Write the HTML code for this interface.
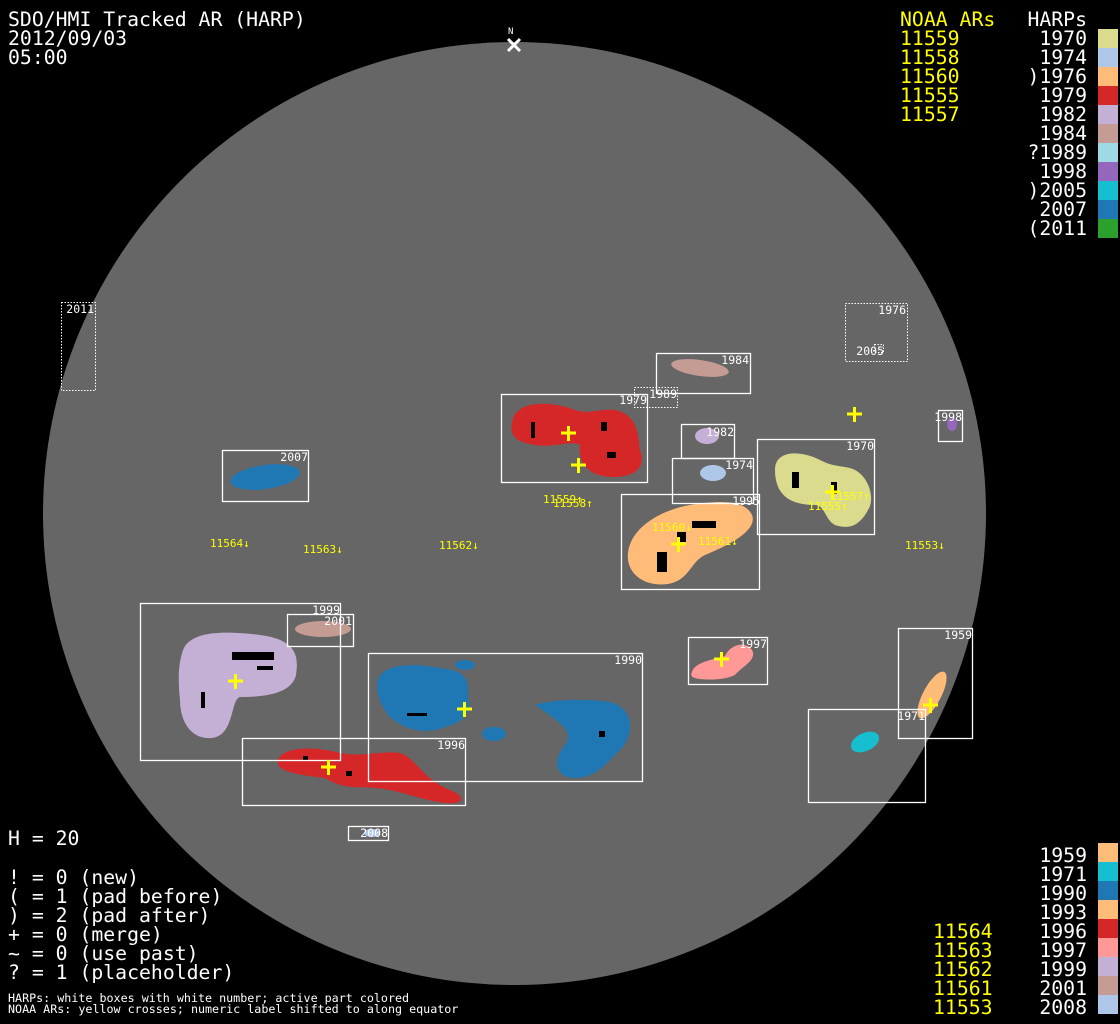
<!DOCTYPE html>
<html><head><meta charset="utf-8"><style>
html,body{margin:0;padding:0;background:#000;}
svg{display:block}
text{font-family:"DejaVu Sans Mono","Liberation Mono",monospace;}
</style></head><body>
<svg width="1120" height="1024" viewBox="0 0 1120 1024" xmlns="http://www.w3.org/2000/svg">
<rect width="1120" height="1024" fill="#000"/>
<circle cx="514.5" cy="513.5" r="471.5" fill="#666"/>
<text x="508" y="34" fill="#fff" font-size="9">N</text>
<path d="M508 39 L520 51 M520 39 L508 51" stroke="#fff" stroke-width="3"/>

<g>
<ellipse cx="700" cy="368" rx="29" ry="8" transform="rotate(8 700 368)" fill="#c49c94"/>
<path d="M512 425 C512 400 550 400 575 410 C590 415 600 408 615 410 C640 415 638 440 640 450 C648 470 630 478 610 477 C585 475 578 460 580 445 C570 440 555 448 535 445 C515 442 510 435 512 425Z" fill="#d62728"/>
<ellipse cx="707" cy="436" rx="12" ry="8" fill="#c5b0d5"/>
<ellipse cx="713" cy="473" rx="13" ry="8" fill="#aec7e8"/>
<path d="M775 470 C775 450 800 450 820 460 C835 468 845 465 855 470 C870 478 875 500 868 510 C860 525 850 530 835 525 C825 520 825 505 815 505 C790 505 775 495 775 470Z" fill="#dbdb8d"/>
<path d="M628 560 C625 530 660 510 690 505 C720 500 745 500 752 515 C758 530 730 545 705 555 C690 562 690 580 668 584 C645 587 630 575 628 560Z" fill="#ffbb78"/>
<ellipse cx="265" cy="477" rx="35" ry="12" transform="rotate(-8 265 477)" fill="#1f77b4"/>
<ellipse cx="952" cy="424" rx="5" ry="7" fill="#9467bd"/>
<path d="M183 650 C190 632 220 630 260 635 C300 640 298 660 296 675 C292 692 270 697 240 697 C230 700 235 735 212 738 C190 740 180 720 180 700 C178 680 178 665 183 650Z" fill="#c5b0d5"/>
<ellipse cx="323" cy="629" rx="28" ry="8" fill="#c49c94"/>
<path d="M378 680 C382 665 410 662 440 668 C460 670 470 675 468 695 C470 710 470 720 445 727 C425 735 405 730 390 717 C380 705 375 692 378 680Z" fill="#1f77b4"/>
<ellipse cx="465" cy="665" rx="10" ry="5" fill="#1f77b4"/>
<ellipse cx="494" cy="734" rx="12" ry="7" fill="#1f77b4"/>
<path d="M535 705 C550 700 580 698 610 702 C632 708 636 730 622 748 C605 765 595 778 575 778 C555 778 552 760 565 745 C575 732 560 722 535 705Z" fill="#1f77b4"/>
<path d="M278 760 C282 748 310 745 340 753 C365 758 390 748 405 755 C420 765 425 780 450 790 C470 798 460 805 445 803 C420 800 400 790 375 788 C355 786 345 790 325 778 C300 775 275 772 278 760Z" fill="#d62728"/>
<path d="M692 672 C695 662 712 660 725 656 C730 645 745 640 752 650 C758 660 740 668 735 675 C725 680 710 680 700 679 C692 678 690 676 692 672Z" fill="#ff9896"/>
<ellipse cx="865" cy="742" rx="15" ry="9" transform="rotate(-25 865 742)" fill="#17becf"/>
<ellipse cx="932" cy="695" rx="9" ry="26" transform="rotate(28 932 695)" fill="#ffbb78"/>
<ellipse cx="372" cy="833" rx="8" ry="4" fill="#aec7e8"/>
</g>

<g fill="#000">
<rect x="531" y="422" width="4" height="16"/><rect x="601" y="422" width="6" height="9"/><rect x="607" y="452" width="9" height="6"/>
<rect x="792" y="472" width="7" height="16"/><rect x="831" y="482" width="6" height="12"/>
<rect x="657" y="552" width="10" height="20"/><rect x="692" y="521" width="24" height="7"/><rect x="677" y="532" width="9" height="10"/>
<rect x="201" y="692" width="4" height="16"/><rect x="232" y="652" width="42" height="8"/><rect x="257" y="666" width="16" height="4"/>
<rect x="407" y="713" width="20" height="3"/><rect x="599" y="731" width="6" height="6"/>
<rect x="346" y="771" width="6" height="5"/><rect x="303" y="756" width="5" height="5"/>
</g>

<g fill="none" stroke="#fff" stroke-width="1.3">
<rect x="656.5" y="353.5" width="94" height="40"/>
<rect x="501.5" y="394.5" width="146" height="88"/>
<rect x="681.5" y="424.5" width="53" height="34"/>
<rect x="672.5" y="458.5" width="81" height="45"/>
<rect x="757.5" y="439.5" width="117" height="95"/>
<rect x="621.5" y="494.5" width="138" height="95"/>
<rect x="222.5" y="450.5" width="86" height="51"/>
<rect x="938.5" y="410.5" width="24" height="31"/>
<rect x="140.5" y="603.5" width="200" height="157"/>
<rect x="287.5" y="614.5" width="66" height="32"/>
<rect x="368.5" y="653.5" width="274" height="128"/>
<rect x="242.5" y="738.5" width="223" height="67"/>
<rect x="688.5" y="637.5" width="79" height="47"/>
<rect x="898.5" y="628.5" width="74" height="110"/>
<rect x="808.5" y="709.5" width="117" height="93"/>
<rect x="348.5" y="826.5" width="40" height="14"/>
</g>
<g fill="none" stroke="#fff" stroke-width="1" stroke-dasharray="1.5 1.5">
<rect x="61.5" y="302.5" width="34" height="88"/>
<rect x="845.5" y="303.5" width="62" height="58"/>
<rect x="634.5" y="387.5" width="43" height="20"/>
<rect x="874.5" y="344.5" width="9" height="8"/>
</g>
<g fill="#fff" font-size="11.5" text-anchor="end">
<text x="94" y="313">2011</text>
<text x="906" y="314">1976</text>
<text x="884" y="355">2005</text>
<text x="749" y="364">1984</text>
<text x="647" y="404">1979</text>
<text x="677" y="398">1989</text>
<text x="734" y="436">1982</text>
<text x="753" y="469">1974</text>
<text x="874" y="450">1970</text>
<text x="760" y="505">1995</text>
<text x="308" y="461">2007</text>
<text x="962" y="421">1998</text>
<text x="340" y="614">1999</text>
<text x="352" y="625">2001</text>
<text x="642" y="664">1990</text>
<text x="465" y="749">1996</text>
<text x="767" y="648">1997</text>
<text x="972" y="639">1959</text>
<text x="925" y="720">1971</text>
<text x="388" y="837">2008</text>
</g>
<g stroke="#ff0" stroke-width="3">
<path d="M561 433h15M568.5 426v15"/>
<path d="M571 465h15M578.5 458v15"/>
<path d="M847 414h15M854.5 407v15"/>
<path d="M825 492h15M832.5 485v15"/>
<path d="M671 544h15M678.5 537v15"/>
<path d="M228 681h15M235.5 674v15"/>
<path d="M457 709h15M464.5 702v15"/>
<path d="M321 767h15M328.5 760v15"/>
<path d="M714 659h15M721.5 652v15"/>
<path d="M923 705h15M930.5 698v15"/>
</g>
<g fill="#ff0" font-size="11">
<text x="543" y="503">11559↑</text>
<text x="553" y="507">11558↑</text>
<text x="652" y="531">11560↓</text>
<text x="698" y="545">11561↓</text>
<text x="808" y="510">11555↑</text>
<text x="830" y="500">11557↑</text>
<text x="210" y="547">11564↓</text>
<text x="303" y="553">11563↓</text>
<text x="439" y="549">11562↓</text>
<text x="905" y="549">11553↓</text>
</g>

<g fill="#fff" font-size="19.8">
<text x="8" y="26">SDO/HMI Tracked AR (HARP)</text>
<text x="8" y="45">2012/09/03</text>
<text x="8" y="64">05:00</text>
</g>
<g fill="#ff0" font-size="19.8">
<text x="900" y="26">NOAA ARs</text>
<text x="900" y="45">11559</text><text x="900" y="64">11558</text><text x="900" y="83">11560</text><text x="900" y="102">11555</text><text x="900" y="121">11557</text>
</g>
<g fill="#fff" font-size="19.8" text-anchor="end">
<text x="1087" y="26">HARPs</text>
<text x="1087" y="45">1970</text><text x="1087" y="64">1974</text><text x="1087" y="83">)1976</text><text x="1087" y="102">1979</text><text x="1087" y="121">1982</text><text x="1087" y="140">1984</text><text x="1087" y="159">?1989</text><text x="1087" y="178">1998</text><text x="1087" y="197">)2005</text><text x="1087" y="216">2007</text><text x="1087" y="235">(2011</text>
</g>
<g>
<rect x="1098" y="29" width="20" height="19" fill="#dbdb8d"/>
<rect x="1098" y="48" width="20" height="19" fill="#aec7e8"/>
<rect x="1098" y="67" width="20" height="19" fill="#ffbb78"/>
<rect x="1098" y="86" width="20" height="19" fill="#d62728"/>
<rect x="1098" y="105" width="20" height="19" fill="#c5b0d5"/>
<rect x="1098" y="124" width="20" height="19" fill="#c49c94"/>
<rect x="1098" y="143" width="20" height="19" fill="#9edae5"/>
<rect x="1098" y="162" width="20" height="19" fill="#9467bd"/>
<rect x="1098" y="181" width="20" height="19" fill="#17becf"/>
<rect x="1098" y="200" width="20" height="19" fill="#1f77b4"/>
<rect x="1098" y="219" width="20" height="19" fill="#2ca02c"/>
</g>
<g fill="#fff" font-size="19.8" text-anchor="end">
<text x="1087" y="862">1959</text><text x="1087" y="881">1971</text><text x="1087" y="900">1990</text><text x="1087" y="919">1993</text><text x="1087" y="938">1996</text><text x="1087" y="957">1997</text><text x="1087" y="976">1999</text><text x="1087" y="995">2001</text><text x="1087" y="1014">2008</text>
</g>
<g fill="#ff0" font-size="19.8">
<text x="933" y="938">11564</text><text x="933" y="957">11563</text><text x="933" y="976">11562</text><text x="933" y="995">11561</text><text x="933" y="1014">11553</text>
</g>
<g>
<rect x="1098" y="843" width="20" height="19" fill="#ffbb78"/>
<rect x="1098" y="862" width="20" height="19" fill="#17becf"/>
<rect x="1098" y="881" width="20" height="19" fill="#1f77b4"/>
<rect x="1098" y="900" width="20" height="19" fill="#ffbb78"/>
<rect x="1098" y="919" width="20" height="19" fill="#d62728"/>
<rect x="1098" y="938" width="20" height="19" fill="#ff9896"/>
<rect x="1098" y="957" width="20" height="19" fill="#c5b0d5"/>
<rect x="1098" y="976" width="20" height="19" fill="#c49c94"/>
<rect x="1098" y="995" width="20" height="19" fill="#aec7e8"/>
</g>
<g fill="#fff" font-size="19.8">
<text x="8" y="845">H = 20</text>
<text x="8" y="884">! = 0 (new)</text>
<text x="8" y="903">( = 1 (pad before)</text>
<text x="8" y="922">) = 2 (pad after)</text>
<text x="8" y="941">+ = 0 (merge)</text>
<text x="8" y="960">~ = 0 (use past)</text>
<text x="8" y="979">? = 1 (placeholder)</text>
</g>
<g fill="#fff" font-size="11.7">
<text x="8" y="1002">HARPs: white boxes with white number; active part colored</text>
<text x="8" y="1013">NOAA ARs: yellow crosses; numeric label shifted to along equator</text>
</g>
</svg>
</body></html>
